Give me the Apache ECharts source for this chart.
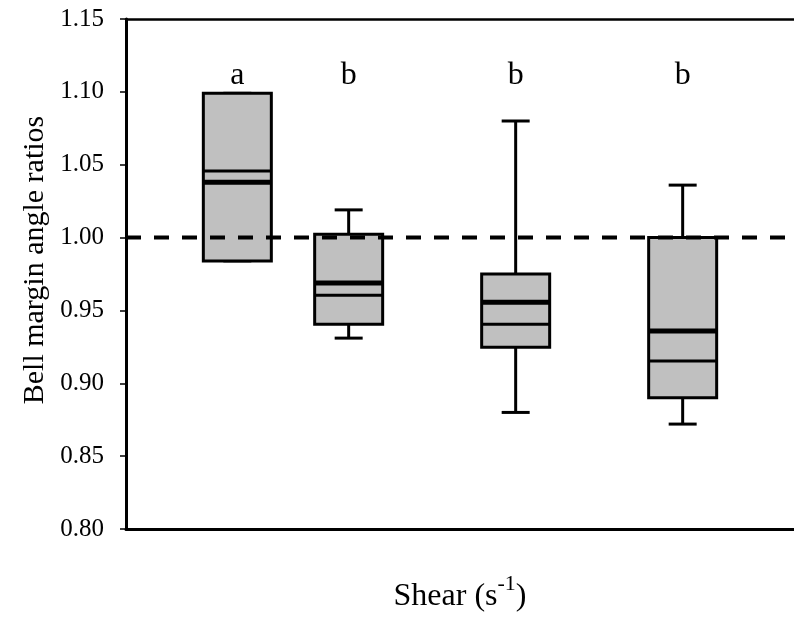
<!DOCTYPE html>
<html>
<head>
<meta charset="utf-8">
<script src="https://cdn.jsdelivr.net/npm/echarts@6/dist/echarts.min.js"></script>
<style>
  html, body { margin: 0; padding: 0; background: #fff; }
  #chart { width: 794px; height: 620px; }
</style>
</head>
<body>
<div id="chart"></div>
<script>
// box positions along the shear axis and box stats
var xPos = [1, 2, 3.5, 5];
var whiskerLow = [0.984, 0.931, 0.880, 0.872];
var q1 = [0.984, 0.9405, 0.9247, 0.890];
var median = [1.0457, 0.9604, 0.9405, 0.9153];
var mean = [1.038, 0.9688, 0.9556, 0.9359];
var q3 = [1.099, 1.0023, 0.975, 1.000];
var whiskerHigh = [1.099, 1.019, 1.080, 1.036];
var letters = ["a", "b", "b", "b"];
var yTicks = [0.80, 0.85, 0.90, 0.95, 1.00, 1.05, 1.10, 1.15];

var FONT = "Liberation Serif";
var LETTER_Y = 1.111;

var boxData = xPos.map(function (x, i) {
  return [x, whiskerLow[i], q1[i], median[i], mean[i], q3[i], whiskerHigh[i]];
});
var letterData = xPos.map(function (x) {
  return [x, LETTER_Y];
});

function renderBox(params, api) {
  var x = api.value(0);
  var pLow = api.coord([x, api.value(1)]);
  var pQ1 = api.coord([x, api.value(2)]);
  var pMed = api.coord([x, api.value(3)]);
  var pMean = api.coord([x, api.value(4)]);
  var pQ3 = api.coord([x, api.value(5)]);
  var pHigh = api.coord([x, api.value(6)]);
  var cx = pQ1[0];
  var hw = 34;
  var cw = 14;
  var stroke = { stroke: "#000", lineWidth: 3 };
  return {
    type: "group",
    children: [
      { type: "line", shape: { x1: cx, y1: pHigh[1], x2: cx, y2: pQ3[1] }, style: stroke },
      { type: "line", shape: { x1: cx, y1: pLow[1], x2: cx, y2: pQ1[1] }, style: stroke },
      { type: "line", shape: { x1: cx - cw, y1: pHigh[1], x2: cx + cw, y2: pHigh[1] }, style: stroke },
      { type: "line", shape: { x1: cx - cw, y1: pLow[1], x2: cx + cw, y2: pLow[1] }, style: stroke },
      {
        type: "rect",
        shape: { x: cx - hw, y: pQ3[1], width: hw * 2, height: pQ1[1] - pQ3[1] },
        style: { fill: "#c0c0c0", stroke: "#000", lineWidth: 3 }
      },
      { type: "line", shape: { x1: cx - hw, y1: pMed[1], x2: cx + hw, y2: pMed[1] }, style: { stroke: "#000", lineWidth: 3 } },
      { type: "line", shape: { x1: cx - hw, y1: pMean[1], x2: cx + hw, y2: pMean[1] }, style: { stroke: "#000", lineWidth: 5 } }
    ]
  };
}

function renderLetter(params, api) {
  var p = api.coord([api.value(0), api.value(1)]);
  return {
    type: "text",
    x: p[0],
    y: p[1],
    style: {
      text: letters[params.dataIndex],
      fill: "#000",
      font: "32px '" + FONT + "'",
      textAlign: "center",
      textVerticalAlign: "middle"
    }
  };
}

var chart = echarts.init(document.getElementById("chart"), null, { renderer: "canvas" });
chart.setOption({
  animation: false,
  backgroundColor: "#fff",
  grid: { left: 126, top: 19, width: 674, height: 510 },
  xAxis: [
    {
      type: "value",
      min: 0,
      max: 6,
      position: "bottom",
      axisLine: { show: true, lineStyle: { color: "#000", width: 3 } },
      axisTick: { show: false },
      axisLabel: { show: false },
      splitLine: { show: false },
      name: "{a|Shear (s}{sup|-1}{a|)}",
      nameLocation: "middle",
      nameGap: 44,
      nameTextStyle: {
        rich: {
          a: { fontFamily: FONT, fontSize: 32, color: "#000", verticalAlign: "bottom", lineHeight: 40 },
          sup: { fontFamily: FONT, fontSize: 22, color: "#000", verticalAlign: "top", lineHeight: 36 }
        }
      }
    },
    {
      type: "value",
      min: 0,
      max: 6,
      position: "top",
      axisLine: { show: true, lineStyle: { color: "#000", width: 2.5 } },
      axisTick: { show: false },
      axisLabel: { show: false },
      splitLine: { show: false }
    }
  ],
  yAxis: {
    type: "value",
    min: 0.8,
    max: 1.15,
    interval: 0.05,
    axisLine: { show: true, lineStyle: { color: "#000", width: 3 } },
    axisTick: { show: true, inside: false, length: 6, lineStyle: { color: "#000", width: 1.5 } },
    axisLabel: {
      margin: 22,
      fontFamily: FONT,
      fontSize: 25,
      color: "#000",
      formatter: function (v) {
        return yTicks.indexOf(+v.toFixed(2)) >= 0 ? v.toFixed(2) : "";
      }
    },
    splitLine: { show: false }
  },
  graphic: [
    {
      type: "text",
      x: 35,
      y: 260,
      rotation: Math.PI / 2,
      style: {
        text: "Bell margin angle ratios",
        fill: "#000",
        font: "30px '" + FONT + "'",
        textAlign: "center",
        textVerticalAlign: "middle"
      }
    }
  ],
  series: [
    {
      type: "custom",
      renderItem: renderBox,
      data: boxData,
      z: 2,
      silent: true
    },
    {
      type: "line",
      data: [[0, 1], [6, 1]],
      symbol: "none",
      lineStyle: { color: "#000", width: 4, type: [15, 13] },
      z: 5,
      silent: true
    },
    {
      type: "custom",
      renderItem: renderLetter,
      data: letterData,
      silent: true
    }
  ]
});
</script>
</body>
</html>
